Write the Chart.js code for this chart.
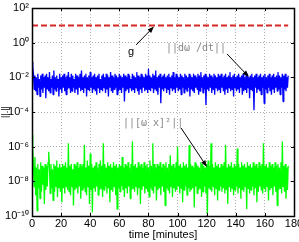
<!DOCTYPE html>
<html>
<head>
<meta charset="utf-8">
<script src="https://cdn.jsdelivr.net/npm/chart.js@4/dist/chart.umd.min.js"></script>
<style>
  body { margin: 0; background: #fff; }
  canvas { display: block; }
</style>
</head>
<body>
<canvas id="myChart" width="299" height="242"></canvas>
<script>
// sampling of the recorded series (minutes between samples)
var sampleStep = 0.5;

// log10 of ||dw/dt|| , one value per sample
var dwLog = [
  -1.1,-1.4,-1.8,-2.7,-1.9,-2.8,-2.0,-3.0,-1.8,-2.6,-2.1,-3.1,-1.9,-2.7,-1.8,-2.9,-2.0,-2.6,-1.9,-3.2,
  -1.8,-2.7,-2.0,-2.8,-1.7,-2.9,-2.1,-2.6,-1.9,-3.0,-1.6,-2.7,-2.0,-2.8,-1.9,-2.6,-2.1,-3.1,-1.8,-2.7,
  -2.0,-2.9,-1.9,-2.6,-1.8,-2.8,-2.0,-3.0,-1.9,-2.7,-1.7,-2.6,-2.0,-2.9,-1.8,-2.8,-1.9,-2.6,-2.1,-2.9,
  -1.8,-2.7,-1.9,-3.0,-2.0,-2.6,-1.8,-2.8,-1.6,-2.7,-2.0,-2.9,-1.9,-2.6,-1.8,-3.1,-2.0,-2.7,-1.9,-2.8,
  -1.7,-2.6,-2.0,-2.9,-1.9,-2.7,-1.8,-2.8,-2.0,-3.0,-1.9,-2.6,-1.8,-2.9,-2.1,-2.7,-1.9,-2.8,-1.8,-2.6,
  -2.0,-2.9,-1.8,-2.7,-1.9,-3.1,-2.0,-2.6,-1.7,-2.8,-1.9,-2.9,-2.0,-2.7,-1.8,-2.6,-1.9,-3.0,-2.0,-2.8,
  -1.8,-2.7,-1.9,-2.9,-2.0,-2.6,-1.8,-3.4,-1.9,-2.8,-2.0,-2.7,-1.8,-2.9,-1.9,-2.6,-2.1,-2.8,-1.8,-2.7,
  -1.9,-2.9,-2.0,-2.6,-1.7,-2.8,-1.9,-3.0,-2.0,-2.7,-1.8,-2.9,-1.9,-2.6,-2.0,-2.8,-1.8,-2.7,-1.9,-2.9,
  -1.5,-2.7,-1.9,-2.8,-2.0,-2.6,-1.8,-2.9,-1.9,-2.7,-1.6,-2.8,-2.0,-3.0,-1.9,-2.6,-1.8,-3.5,-2.0,-2.7,
  -1.9,-2.8,-1.8,-2.6,-2.0,-2.9,-1.9,-2.7,-1.8,-3.0,-2.0,-2.6,-1.9,-2.8,-1.7,-2.7,-2.0,-2.9,-1.8,-2.6,
  -1.9,-2.8,-2.0,-2.7,-1.8,-3.0,-1.9,-2.6,-2.0,-2.9,-1.8,-2.7,-1.9,-2.8,-2.0,-2.6,-1.8,-3.1,-1.9,-2.7,
  -2.0,-2.8,-1.8,-2.9,-1.9,-2.6,-2.0,-2.7,-1.8,-3.0,-1.9,-2.8,-1.7,-2.6,-2.0,-2.9,-1.9,-2.7,-1.8,-3.6,
  -1.9,-2.7,-2.0,-2.8,-1.8,-2.6,-1.9,-2.9,-2.0,-2.7,-1.8,-3.0,-1.9,-2.6,-2.0,-2.8,-1.8,-2.7,-1.9,-2.9,
  -1.8,-2.6,-2.0,-2.8,-1.9,-3.0,-1.8,-2.7,-2.0,-2.9,-1.9,-2.6,-1.7,-2.8,-2.0,-2.7,-1.9,-3.1,-1.8,-2.6,
  -2.0,-2.8,-1.9,-2.7,-1.8,-2.9,-2.0,-2.6,-1.9,-3.0,-1.8,-2.8,-2.0,-2.7,-1.9,-2.9,-1.8,-2.6,-2.0,-3.2,
  -1.9,-2.7,-1.8,-2.8,-2.0,-3.9,-1.9,-2.6,-1.8,-2.9,-2.0,-2.7,-1.9,-2.8,-1.8,-3.0,-2.0,-2.6,-1.9,-3.5,
  -1.8,-2.7,-2.0,-2.9,-1.9,-2.6,-1.8,-2.8,-2.0,-3.0,-1.9,-2.7,-1.8,-2.9,-2.0,-2.6,-1.9,-2.8,-1.7,-2.7,
  -1.9,-3.0,-2.0,-2.6,-1.8,-3.4,-1.9,-2.7,-1.8,-2.8,-2.0,-2.6,-1.9
];

// log10 of ||[w x]^2|| , one value per sample
var wxLog = [
  -5.3,-6.2,-7.0,-8.3,-6.6,-8.8,-7.2,-9.7,-7.0,-8.4,-7.3,-9.0,-6.9,-8.6,-7.1,-8.2,-7.2,-9.3,-7.0,-8.5,
  -7.1,-8.3,-6.9,-6.3,-7.2,-8.7,-7.0,-8.4,-7.3,-9.1,-7.0,-8.6,-7.1,-8.3,-6.8,-8.9,-7.2,-8.4,-7.0,-8.6,
  -7.2,-9.2,-7.0,-8.4,-7.1,-8.7,-6.9,-8.3,-7.2,-8.5,-5.8,-8.6,-7.1,-8.8,-7.0,-8.3,-7.3,-9.4,-7.0,-8.5,
  -7.1,-8.4,-6.9,-8.7,-7.2,-8.3,-7.0,-9.0,-7.1,-8.5,-7.0,-8.4,-5.9,-8.6,-7.2,-8.8,-6.8,-8.3,-7.1,-9.3,
  -6.4,-8.5,-7.0,-9.8,-7.2,-8.4,-7.1,-8.6,-6.9,-8.3,-7.2,-8.8,-7.0,-8.5,-6.8,-8.4,-7.1,-8.9,-5.8,-8.5,
  -7.0,-8.3,-7.2,-8.7,-6.9,-8.4,-7.1,-9.2,-7.0,-8.5,-7.2,-8.6,-6.9,-8.3,-7.1,-8.8,-7.0,-9.6,-7.2,-8.4,
  -7.0,-8.6,-7.1,-8.3,-6.6,-8.5,-7.2,-8.9,-7.0,-8.4,-7.1,-8.7,-6.9,-8.3,-7.2,-9.0,-7.0,-8.5,-5.7,-8.4,
  -7.1,-8.6,-7.0,-8.3,-7.2,-8.8,-6.9,-8.4,-7.1,-9.3,-7.0,-8.5,-7.2,-8.3,-6.9,-8.7,-7.1,-8.4,-7.0,-8.6,
  -7.2,-8.9,-6.8,-8.4,-7.1,-8.5,-5.8,-8.7,-7.0,-8.3,-7.2,-9.1,-7.0,-8.5,-7.1,-8.4,-6.9,-8.8,-7.2,-8.3,
  -7.0,-8.6,-7.1,-9.4,-6.9,-8.4,-7.2,-8.5,-7.0,-8.7,-6.5,-8.3,-7.1,-8.9,-7.0,-8.4,-7.2,-8.6,-6.9,-8.5,
  -6.0,-8.3,-7.1,-8.7,-7.0,-8.4,-7.2,-9.2,-6.9,-8.5,-7.1,-8.3,-7.0,-8.8,-7.2,-8.4,-5.9,-8.6,-7.0,-8.5,
  -7.1,-8.4,-7.2,-9.5,-6.9,-8.3,-7.0,-8.7,-7.1,-8.5,-7.2,-8.4,-6.9,-8.9,-7.0,-8.6,-7.1,-8.3,-7.2,-8.7,
  -7.0,-9.9,-6.8,-8.4,-7.1,-8.5,-5.8,-8.6,-7.0,-8.3,-7.2,-8.8,-6.9,-8.4,-7.1,-9.1,-7.0,-8.5,-7.2,-8.3,
  -7.0,-8.6,-7.1,-8.4,-6.9,-8.7,-5.9,-8.5,-7.2,-9.3,-7.0,-8.3,-7.1,-8.6,-6.9,-8.4,-7.2,-8.8,-7.0,-8.5,
  -7.1,-8.3,-6.1,-8.7,-7.0,-8.4,-7.2,-9.0,-6.9,-8.5,-7.1,-8.6,-7.0,-8.3,-7.2,-9.6,-6.9,-8.4,-7.1,-8.7,
  -7.0,-8.5,-7.2,-8.3,-6.9,-8.8,-7.1,-8.4,-7.0,-9.2,-7.2,-8.6,-6.9,-8.3,-7.1,-8.5,-7.0,-8.7,-5.8,-8.4,
  -7.1,-8.6,-7.0,-8.3,-7.2,-9.1,-6.9,-8.5,-7.1,-8.4,-7.0,-8.8,-7.2,-8.3,-6.9,-8.6,-7.1,-9.4,-7.0,-8.5,
  -7.2,-8.4,-6.9,-8.7,-5.7,-8.3,-7.1,-8.6,-7.0,-9.0,-7.2,-8.5,-7.1
];

// gravity reference line
var gTimes = [0, 176];
var gValues = [9.81, 9.81];

var xTicks = [0, 20, 40, 60, 80, 100, 120, 140, 160, 180];
var yTicks = [1e-10, 1e-8, 1e-6, 1e-4, 1e-2, 1e0, 1e2];
var yTickLabels = ["10\u207B\u00B9\u2070", "10\u207B\u2078", "10\u207B\u2076", "10\u207B\u2074", "10\u207B\u00B2", "10\u2070", "10\u00B2"];

// text notes with arrows, placed in data units (time, value)
var notes = [
  { text: "g", color: "#000", x: 68, y: 0.29, align: "center", from: [71.5, 0.74], to: [83.8, 8.5] },
  { text: "||d\u03C9 /dt||", color: "#888", x: 92, y: 0.49, align: "left", from: [134, 0.224], to: [149, 0.0105] },
  { text: "||[\u03C9 x]\u00B2||", color: "#888", x: 62.5, y: 2.3e-5, align: "left", from: [102.4, 1.2e-5], to: [120.2, 6.8e-8] }
];

function toPoints(logs) {
  return logs.map(function (e, i) { return { x: i * sampleStep, y: Math.pow(10, e) }; });
}

var boxPlugin = {
  id: "box",
  afterDraw: function (chart) {
    var ctx = chart.ctx;
    var a = chart.chartArea;
    var xs = chart.scales.x, ys = chart.scales.y;
    ctx.save();
    // inward tick marks
    ctx.strokeStyle = "#000";
    ctx.lineWidth = 1;
    ctx.beginPath();
    xTicks.forEach(function (t) {
      var px = Math.round(xs.getPixelForValue(t)) + 0.5;
      ctx.moveTo(px, a.bottom); ctx.lineTo(px, a.bottom - 3);
      ctx.moveTo(px, a.top); ctx.lineTo(px, a.top + 3);
    });
    yTicks.forEach(function (v) {
      var py = Math.round(ys.getPixelForValue(v)) + 0.5;
      ctx.moveTo(a.left, py); ctx.lineTo(a.left + 3, py);
      ctx.moveTo(a.right, py); ctx.lineTo(a.right - 3, py);
    });
    ctx.stroke();
    // box
    ctx.lineWidth = 1.5;
    ctx.strokeRect(Math.round(a.left) + 0.5, Math.round(a.top) + 0.5, Math.round(a.right - a.left), Math.round(a.bottom - a.top));
    // notes
    notes.forEach(function (n) {
      ctx.fillStyle = n.color;
      ctx.font = n.text === "g" ? "11px 'Liberation Sans'" : "10px 'DejaVu Sans Mono'";
      ctx.textAlign = n.align;
      ctx.textBaseline = "middle";
      ctx.fillText(n.text, xs.getPixelForValue(n.x), ys.getPixelForValue(n.y));
      var x0 = xs.getPixelForValue(n.from[0]), y0 = ys.getPixelForValue(n.from[1]);
      var x1 = xs.getPixelForValue(n.to[0]), y1 = ys.getPixelForValue(n.to[1]);
      var ang = Math.atan2(y1 - y0, x1 - x0);
      ctx.strokeStyle = "#000";
      ctx.fillStyle = "#000";
      ctx.lineWidth = 1;
      ctx.beginPath();
      ctx.moveTo(x0, y0);
      ctx.lineTo(x1 - 4 * Math.cos(ang), y1 - 4 * Math.sin(ang));
      ctx.stroke();
      ctx.beginPath();
      ctx.moveTo(x1, y1);
      ctx.lineTo(x1 - 7 * Math.cos(ang - 0.35), y1 - 7 * Math.sin(ang - 0.35));
      ctx.lineTo(x1 - 7 * Math.cos(ang + 0.35), y1 - 7 * Math.sin(ang + 0.35));
      ctx.closePath();
      ctx.fill();
    });
    ctx.restore();
  }
};

var tickFont = { family: "'Liberation Sans', Arial, sans-serif", size: 11 };

new Chart(document.getElementById("myChart"), {
  type: "line",
  data: {
    datasets: [{
      label: "||dw/dt||",
      data: toPoints(dwLog),
      borderColor: "#0000ff",
      borderWidth: 1.3,
      pointRadius: 0,
      borderJoinStyle: "bevel",
      fill: false,
    }, {
      label: "||[w x]^2||",
      data: toPoints(wxLog),
      borderColor: "#00ff00",
      borderWidth: 1.3,
      pointRadius: 0,
      borderJoinStyle: "bevel",
      fill: false,
    }, {
      label: "g",
      data: gTimes.map(function (t, i) { return { x: t, y: gValues[i] }; }),
      borderColor: "rgb(214,40,40)",
      borderWidth: 2,
      borderDash: [6, 3],
      pointRadius: 0,
      fill: false,
    }],
  },
  plugins: [boxPlugin],
  options: {
    responsive: false,
    animation: false,
    devicePixelRatio: 1,
    layout: { padding: { left: 0, right: 5, top: 8, bottom: 0 } },
    plugins: {
      legend: { display: false },
      tooltip: { enabled: false },
    },
    scales: {
      x: {
        type: "linear",
        min: 0,
        max: 180,
        afterBuildTicks: function (s) { s.ticks = xTicks.map(function (v) { return { value: v }; }); },
        afterFit: function (s) { s.height = 26; s.paddingLeft = 0; s.paddingRight = 0; },
        ticks: { font: tickFont, color: "#000", padding: 1, maxRotation: 0, autoSkip: false },
        grid: { color: "#b0b0b0", drawTicks: false },
        border: { display: false, dash: [1, 2] },
        title: { display: true, text: "time [minutes]", font: tickFont, color: "#000", padding: 0 },
      },
      y: {
        type: "logarithmic",
        min: 1e-10,
        max: 1e2,
        afterBuildTicks: function (s) { s.ticks = yTicks.map(function (v) { return { value: v }; }); },
        afterFit: function (s) { s.width = 32; s.paddingTop = 0; s.paddingBottom = 0; },
        ticks: {
          font: tickFont,
          color: "#000",
          padding: 3,
          autoSkip: false,
          callback: function (value, index) { return yTickLabels[index]; },
        },
        grid: { color: "#b0b0b0", drawTicks: false },
        border: { display: false, dash: [1, 2] },
        title: { display: true, text: "||.||", font: { family: "'Liberation Sans'", size: 9 }, color: "#000", padding: 0 },
      },
    },
  },
});
</script>
</body>
</html>
